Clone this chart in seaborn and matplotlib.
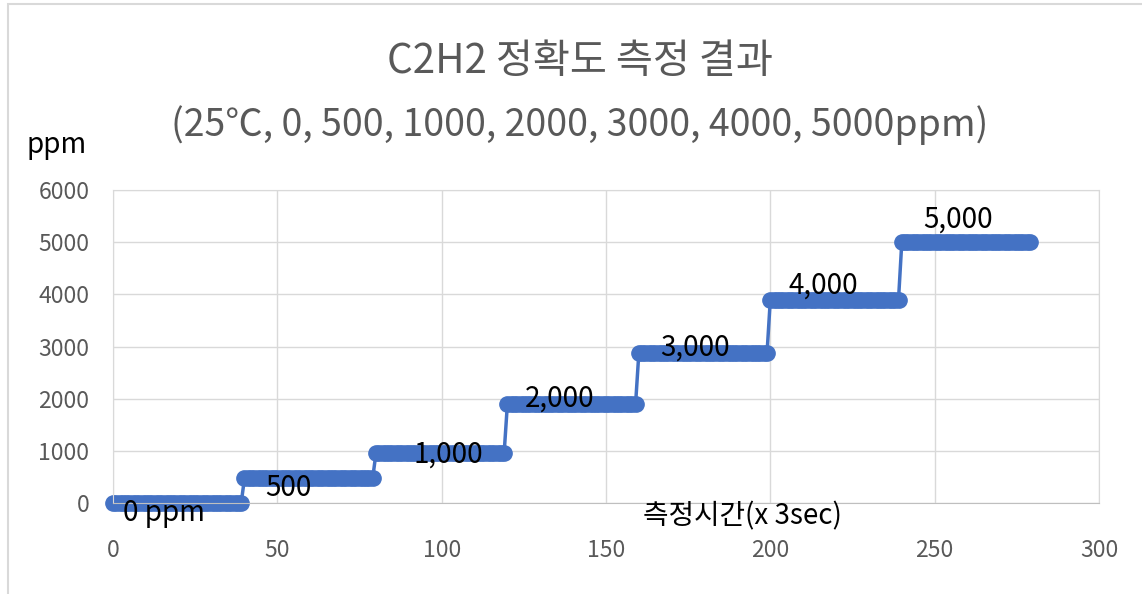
import matplotlib.pyplot as plt
import matplotlib.patches as patches
import numpy as np
import pandas as pd
import seaborn as sns

# step levels (ppm), 40 readings per step
levels = [0, 470, 950, 1900, 2880, 3900, 5000]
points_per_step = [40, 40, 40, 40, 40, 40, 40]
label_texts = ["0 ppm", "500", "1,000", "2,000", "3,000", "4,000", "5,000"]
label_x = [15.5, 53.5, 102, 136, 177, 216, 257]
label_y = [-190, 290, 920, 2010, 2970, 4160, 5440]

values = np.repeat(levels, points_per_step)
df = pd.DataFrame({"t": np.arange(len(values)), "ppm": values})

sns.set_style("white")
plt.rcParams["font.family"] = ["Noto Sans CJK KR", "DejaVu Sans"]

blue = "#4472C4"
grey_text = "#595959"
grid_c = "#d9d9d9"

fig = plt.figure(figsize=(11.42, 5.94), dpi=100)
ax = fig.add_axes([113 / 1142, 1 - 503 / 594, (1099 - 113) / 1142, (503 - 190) / 594])

sns.lineplot(data=df, x="t", y="ppm", ax=ax, color=blue, linewidth=2.5,
             marker="o", markersize=11, markeredgecolor=blue, markeredgewidth=1)
for ln in ax.lines:
    ln.set_clip_on(False)

ax.set_xlim(0, 300)
ax.set_ylim(0, 6000)
ax.set_xticks(range(0, 301, 50))
ax.set_yticks(range(0, 6001, 1000))
ax.grid(True, color=grid_c, linewidth=1)
ax.set_axisbelow(True)
for s in ax.spines.values():
    s.set_color(grid_c)
ax.spines["bottom"].set_color("#bfbfbf")
ax.tick_params(axis="x", length=0, pad=26, labelsize=16.5, labelcolor=grey_text)
ax.tick_params(axis="y", length=0, pad=17, labelsize=16.5, labelcolor=grey_text)
ax.set_xlabel("")
ax.set_ylabel("")

for txt, x, y in zip(label_texts, label_x, label_y):
    ax.text(x, y, txt, ha="center", va="center", fontsize=20, color="black")

fig.text(0.508, 0.897, "C2H2 정확도 측정 결과", ha="center", va="center",
         fontsize=29, color=grey_text)
fig.text(0.508, 0.790, "(25℃, 0, 500, 1000, 2000, 3000, 4000, 5000ppm)",
         ha="center", va="center", fontsize=27, color=grey_text)
fig.text(0.050, 0.756, "ppm", ha="center", va="center", fontsize=20, color="black")
fig.text(0.65, 0.130, "측정시간(x 3sec)", ha="center", va="center", fontsize=20, color="black")

fig.patches.append(patches.Rectangle((8 / 1142, -0.01), 1.0, 1 - 4 / 594 + 0.01,
                                     transform=fig.transFigure, fill=False,
                                     edgecolor=grid_c, linewidth=1.5))

fig.savefig("out.png", dpi=100)
